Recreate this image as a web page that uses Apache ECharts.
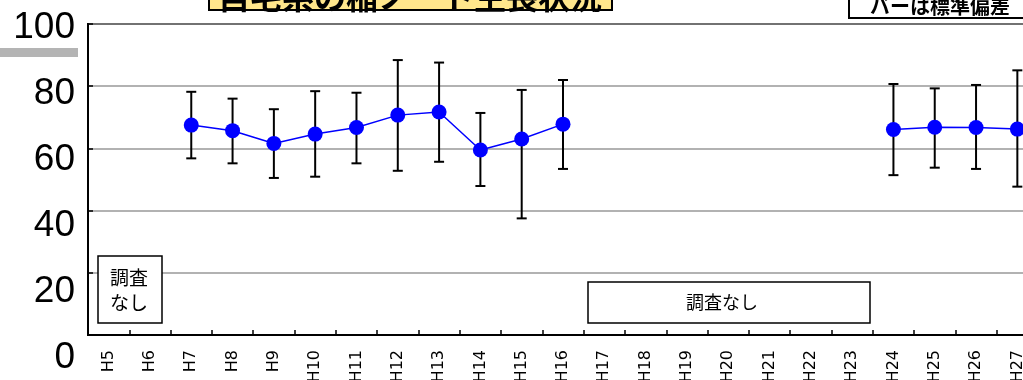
<!DOCTYPE html>
<html>
<head>
<meta charset="utf-8">
<script src="https://cdn.jsdelivr.net/npm/echarts@6/dist/echarts.min.js"></script>
<style>
  html, body { margin: 0; padding: 0; background: #fff; }
  #chart { width: 1023px; height: 380px; }
</style>
</head>
<body>
<div id="chart"></div>
<script>
// 年度（H5〜H27）
const years = ['H5', 'H6', 'H7', 'H8', 'H9', 'H10', 'H11', 'H12', 'H13', 'H14', 'H15', 'H16',
  'H17', 'H18', 'H19', 'H20', 'H21', 'H22', 'H23', 'H24', 'H25', 'H26', 'H27']
// 平均値
const meanValues = [null, null, 67.5, 65.7, 61.6, 64.6, 66.7, 70.7, 71.7, 59.5, 63.0, 67.8,
  null, null, null, null, null, null, null, 66.1, 66.8, 66.7, 66.2]
// 標準偏差バーの上端・下端
const upperValues = [null, null, 78.2, 76.0, 72.6, 78.4, 77.9, 88.4, 87.6, 71.4, 78.8, 82.0,
  null, null, null, null, null, null, null, 80.7, 79.3, 80.4, 85.1]
const lowerValues = [null, null, 56.8, 55.2, 50.5, 50.9, 55.2, 52.8, 55.7, 47.9, 37.5, 53.4,
  null, null, null, null, null, null, null, 51.4, 53.8, 53.4, 47.7]
// 縦軸
const yMin = 0
const yMax = 100
const yStep = 20

const errData = []
years.forEach((y, i) => {
  if (upperValues[i] != null) errData.push([i, lowerValues[i], upperValues[i]])
})

const myChart = echarts.init(document.getElementById('chart'))

const option = {
  backgroundColor: '#fff',
  animation: false,
  grid: [
    {
      left: 88, width: 950, top: 24, bottom: 45,
      outerBoundsMode: 'none', containLabel: false,
      show: true, borderColor: '#000', borderWidth: 2, backgroundColor: 'transparent'
    },
    // 目盛ラベル用（元画像では少しずれている）
    { left: 88, width: 950, top: 28, bottom: 22, outerBoundsMode: 'none', containLabel: false }
  ],
  xAxis: [
    {
      type: 'category',
      gridIndex: 0,
      data: years,
      boundaryGap: true,
      axisLine: { show: true, lineStyle: { color: '#000', width: 2 } },
      axisTick: { show: true, inside: true, length: 5, lineStyle: { color: '#000', width: 1.5 } },
      axisLabel: {
        rotate: 90,
        margin: 15,
        interval: 0,
        color: '#000',
        fontSize: 16,
        fontFamily: 'DejaVu Sans'
      },
      splitLine: { show: false }
    },
    { type: 'category', gridIndex: 1, data: years, show: false }
  ],
  yAxis: [
    {
      type: 'value',
      gridIndex: 0,
      min: yMin,
      max: yMax,
      interval: yStep,
      axisLine: { show: true, lineStyle: { color: '#000', width: 2 } },
      axisTick: { show: true, inside: true, length: 5, lineStyle: { color: '#000', width: 1.5 } },
      axisLabel: { show: false },
      splitLine: { show: true, lineStyle: { color: '#999', width: 1.5 } }
    },
    {
      type: 'value',
      gridIndex: 1,
      min: yMin,
      max: yMax,
      interval: yStep,
      axisLine: { show: false },
      axisTick: { show: false },
      splitLine: { show: false },
      axisLabel: {
        margin: 13,
        color: '#000',
        fontSize: 37,
        fontFamily: 'Liberation Sans'
      }
    }
  ],
  series: [
    {
      name: '標準偏差',
      type: 'custom',
      xAxisIndex: 0,
      yAxisIndex: 0,
      z: 2,
      renderItem: function (params, api) {
        const x = api.value(0)
        const lo = api.coord([x, api.value(1)])
        const hi = api.coord([x, api.value(2)])
        const cap = 5
        const style = { stroke: '#000', lineWidth: 2 }
        return {
          type: 'group',
          children: [
            { type: 'line', shape: { x1: lo[0], y1: lo[1], x2: hi[0], y2: hi[1] }, style: style },
            { type: 'line', shape: { x1: hi[0] - cap, y1: hi[1], x2: hi[0] + cap, y2: hi[1] }, style: style },
            { type: 'line', shape: { x1: lo[0] - cap, y1: lo[1], x2: lo[0] + cap, y2: lo[1] }, style: style }
          ]
        }
      },
      encode: { x: 0, y: [1, 2] },
      data: errData
    },
    {
      name: '平均',
      type: 'line',
      xAxisIndex: 0,
      yAxisIndex: 0,
      z: 3,
      connectNulls: false,
      symbol: 'circle',
      symbolSize: 15,
      lineStyle: { color: '#0000ff', width: 1.5 },
      itemStyle: { color: '#0000ff' },
      data: meanValues
    }
  ],
  graphic: [
    // タイトル（上が切れている）
    {
      type: 'rect', z: 10,
      shape: { x: 209, y: -30, width: 403, height: 40 },
      style: { fill: '#ffe68c', stroke: '#000', lineWidth: 2 }
    },
    {
      type: 'text', z: 11, x: 410, y: 13,
      style: {
        text: '自宅系の稲ノート生長状況',
        fontSize: 32, fontWeight: 'bold',
        fontFamily: 'Noto Sans CJK JP',
        fill: '#000', align: 'center', verticalAlign: 'bottom'
      }
    },
    {
      type: 'rect', z: 10,
      shape: { x: 849, y: -10, width: 200, height: 28 },
      style: { fill: '#fff', stroke: '#000', lineWidth: 2 }
    },
    {
      type: 'text', z: 11, x: 940, y: 6,
      style: {
        text: 'バーは標準偏差',
        fontSize: 20, fontWeight: 'bold',
        fontFamily: 'Noto Sans CJK JP',
        fill: '#000', align: 'center', verticalAlign: 'middle'
      }
    },
    {
      type: 'rect', z: 1,
      shape: { x: 0, y: 48, width: 78, height: 9 },
      style: { fill: '#b4b4b4' }
    },
    // 調査なし
    {
      type: 'rect', z: 10,
      shape: { x: 98, y: 256, width: 64, height: 67 },
      style: { fill: '#fff', stroke: '#000', lineWidth: 1.5 }
    },
    {
      type: 'text', z: 11, x: 129, y: 290,
      style: {
        text: '調査\nなし', lineHeight: 25,
        fontSize: 19, fontFamily: 'Noto Sans CJK JP',
        fill: '#000', align: 'center', verticalAlign: 'middle'
      }
    },
    {
      type: 'rect', z: 10,
      shape: { x: 588, y: 282, width: 282, height: 41 },
      style: { fill: '#fff', stroke: '#000', lineWidth: 1.5 }
    },
    {
      type: 'text', z: 11, x: 722, y: 302,
      style: {
        text: '調査なし',
        fontSize: 18, fontFamily: 'Noto Sans CJK JP',
        fill: '#000', align: 'center', verticalAlign: 'middle'
      }
    }
  ]
}

myChart.setOption(option)
</script>
</body>
</html>
